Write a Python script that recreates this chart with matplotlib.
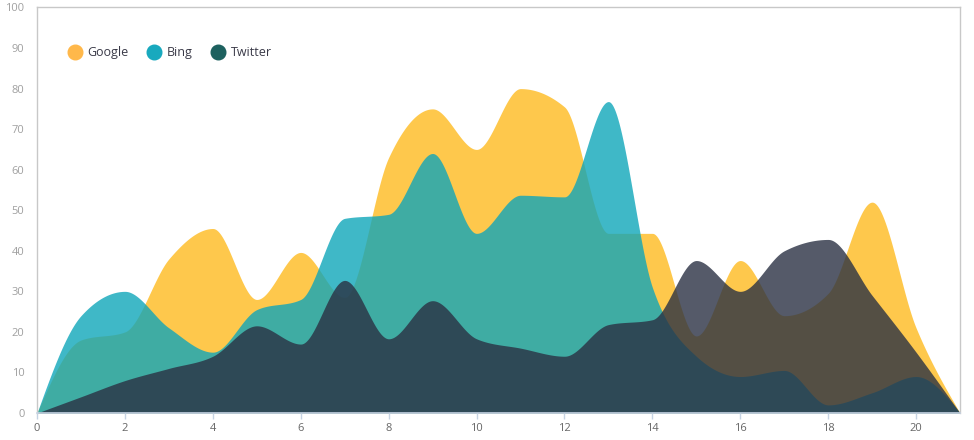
import numpy as np
import matplotlib
matplotlib.use("Agg")
import matplotlib.pyplot as plt
from matplotlib.lines import Line2D

# ---- data ----
x_vals = list(range(0, 22))
google = [0, 18, 20, 38, 45.5, 28, 39.6, 28.5, 63, 75, 65, 80, 75.5, 44.3, 44.3,
          19, 37.6, 24, 29.5, 52, 21, 0]
bing = [0, 24, 30, 21, 15, 25.5, 28, 48, 49, 64, 44.3, 53.7, 53.3, 76.8, 31,
        14, 9, 10.5, 2, 5, 9, 0]
twitter = [0, 4, 8, 11, 14, 21.5, 17, 32.7, 18.3, 27.7, 18.3, 16, 14, 21.8, 23,
           37.6, 30, 40, 42.8, 29, 15, 0]
series_names = ["Google", "Bing", "Twitter"]
x_ticks = list(range(0, 21, 2))
y_ticks = list(range(0, 101, 10))

fill_colors = ["#FEC84C", "#0FA6BA", "#2A3143"]
fill_alphas = [1.0, 0.8, 0.8]
legend_colors = ["#FFB84A", "#18A9BE", "#1D615F"]


def monotone(xs, ys, n=60):
    """d3 curveMonotoneX style interpolation."""
    xs = np.asarray(xs, float)
    ys = np.asarray(ys, float)
    h = np.diff(xs)
    s = np.diff(ys) / h
    m = len(xs)
    t = np.zeros(m)
    for i in range(1, m - 1):
        s0, s1 = s[i - 1], s[i]
        h0, h1 = h[i - 1], h[i]
        p = (s0 * h1 + s1 * h0) / (h0 + h1)
        t[i] = (np.sign(s0) + np.sign(s1)) * min(abs(s0), abs(s1), 0.5 * abs(p))
    t[0] = (3 * s[0] - t[1]) / 2
    t[-1] = (3 * s[-1] - t[-2]) / 2
    out_x, out_y = [], []
    for i in range(m - 1):
        u = np.linspace(0, 1, n, endpoint=(i == m - 2))
        x0, x1 = xs[i], xs[i + 1]
        y0, y1 = ys[i], ys[i + 1]
        dx = x1 - x0
        h00 = 2 * u**3 - 3 * u**2 + 1
        h10 = u**3 - 2 * u**2 + u
        h01 = -2 * u**3 + 3 * u**2
        h11 = u**3 - u**2
        out_x.append(x0 + u * dx)
        out_y.append(h00 * y0 + h10 * dx * t[i] + h01 * y1 + h11 * dx * t[i + 1])
    return np.concatenate(out_x), np.concatenate(out_y)


plt.rcParams['font.family'] = ['Open Sans', 'DejaVu Sans']

fig = plt.figure(figsize=(9.74, 4.40), dpi=100)
ax = fig.add_axes([37 / 974, 1 - 413 / 440, (960 - 37) / 974, (413 - 7.5) / 440])

for name, vals, c, a in zip(series_names, [google, bing, twitter], fill_colors, fill_alphas):
    xx, yy = monotone(x_vals, vals)
    ax.fill_between(xx, 0, yy, color=c, alpha=a, linewidth=0, label=name)

ax.set_xlim(0, 21)
ax.set_ylim(0, 100)
ax.set_xticks(x_ticks)
ax.set_yticks(y_ticks)

for side in ["top", "right", "left"]:
    ax.spines[side].set_color("#c8c8c8")
    ax.spines[side].set_linewidth(1.0)
ax.spines["bottom"].set_color("#c6d3e3")
ax.spines["bottom"].set_linewidth(1.2)

ax.tick_params(axis="y", length=0, pad=9, labelsize=8, labelcolor="#a0a0a0")
ax.tick_params(axis="x", length=4, width=1, color="#c6d3e3", pad=3,
               labelsize=8, labelcolor="#666666")

handles = [Line2D([0], [0], marker="o", linestyle="none", markersize=10.5,
                  markerfacecolor=c, markeredgecolor=c) for c in legend_colors]
leg = ax.legend(handles, series_names, loc="center left",
                bbox_to_anchor=(0.0335, 0.888), ncol=3, frameon=False,
                fontsize=9, handlelength=1.1, handletextpad=0.45,
                columnspacing=1.5, borderpad=0, borderaxespad=0)
for txt in leg.get_texts():
    txt.set_color("#3a3a48")

fig.savefig("out.png", dpi=100)
